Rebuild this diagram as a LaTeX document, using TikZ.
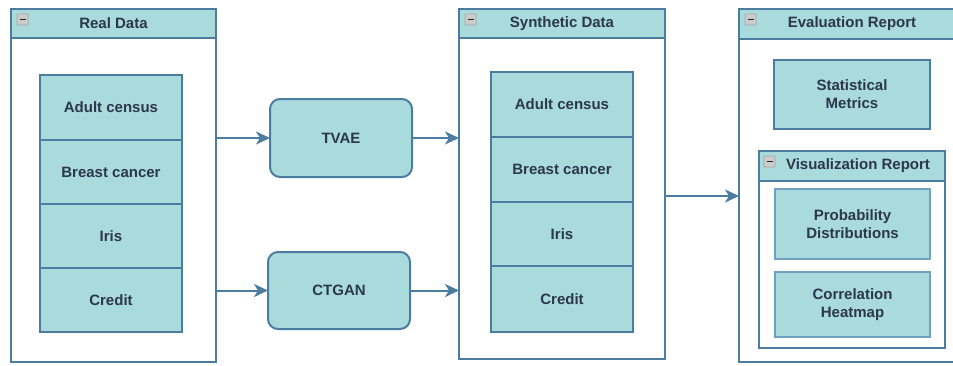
\documentclass[tikz,border=0pt]{standalone}
\usepackage{fontspec}
\setmainfont{Liberation Sans}
\usetikzlibrary{arrows.meta}
\definecolor{tealfill}{RGB}{169,218,220}
\definecolor{edge}{RGB}{76,125,160}
\definecolor{soft}{RGB}{112,162,192}
\definecolor{txt}{RGB}{44,55,75}
\begin{document}
\begin{tikzpicture}[x=1pt,y=-1pt,
  font=\fontsize{15}{18}\selectfont\bfseries, text=txt,
  rect/.style={anchor=north west, inner sep=0pt, outer sep=0pt, align=center},
  box/.style={rect, draw=edge, line width=2pt, fill=white},
  hdr/.style={rect, draw=edge, line width=2pt, fill=tealfill},
  cell/.style={rect, draw=edge, line width=2pt, fill=tealfill},
  softcell/.style={rect, draw=soft, line width=2pt, fill=tealfill},
  model/.style={rect, draw=edge, line width=2pt, fill=tealfill, rounded corners=10pt},
  icon/.style={anchor=north west, inner sep=0pt, outer sep=0pt, minimum size=11pt,
    draw=black!35, fill=black!20, line width=0.8pt, rounded corners=1pt,
    path picture={\draw[black!85, line width=1.6pt]
      ([xshift=2.5pt]path picture bounding box.west) -- ([xshift=-2.5pt]path picture bounding box.east);}},
  arr/.style={draw=edge, line width=2pt, -{Stealth[length=14pt 0,width=13pt 0,inset=4pt]}}
]
\useasboundingbox (0,0) rectangle (953,365);

% Real Data
\node[box, minimum width=205pt, minimum height=353pt] (real) at (11,9) {};
\node[hdr, minimum width=205pt, minimum height=29pt] (realh) at (11,9) {Real Data};
\node[icon] (reali) at (17,14) {};
\node[cell, minimum width=142pt, minimum height=65pt] (r1) at (40,75) {Adult census};
\node[cell, minimum width=142pt, minimum height=64pt] (r2) at (40,140) {Breast cancer};
\node[cell, minimum width=142pt, minimum height=64pt] (r3) at (40,204) {Iris};
\node[cell, minimum width=142pt, minimum height=64pt] (r4) at (40,268) {Credit};

% Models
\node[model, minimum width=142pt, minimum height=78pt] (tvae) at (270,99) {TVAE};
\node[model, minimum width=142pt, minimum height=77pt] (ctgan) at (268,252) {CTGAN};

% Synthetic Data
\node[box, minimum width=206pt, minimum height=350pt] (synth) at (459,9) {};
\node[hdr, minimum width=206pt, minimum height=29pt] (synthh) at (459,9) {Synthetic Data};
\node[icon] (synthi) at (465,14) {};
\node[cell, minimum width=142pt, minimum height=65pt] (s1) at (491,72) {Adult census};
\node[cell, minimum width=142pt, minimum height=65pt] (s2) at (491,137) {Breast cancer};
\node[cell, minimum width=142pt, minimum height=64pt] (s3) at (491,202) {Iris};
\node[cell, minimum width=142pt, minimum height=66pt] (s4) at (491,266) {Credit};

% Evaluation Report
\node[box, minimum width=226pt, minimum height=353pt] (eval) at (739,9) {};
\node[hdr, minimum width=226pt, minimum height=30pt] (evalh) at (739,9) {Evaluation Report};
\node[icon] (evali) at (745,14) {};
\node[cell, minimum width=156pt, minimum height=69pt] (stat) at (774,60) {Statistical\\Metrics};
\node[box, minimum width=186pt, minimum height=197pt] (viz) at (759,151) {};
\node[hdr, minimum width=186pt, minimum height=30pt] (vizh) at (759,151) {\hspace{12pt}Visualization Report};
\node[icon] (vizi) at (764,156) {};
\node[softcell, minimum width=155pt, minimum height=70pt] (prob) at (775,189) {Probability\\Distributions};
\node[softcell, minimum width=155pt, minimum height=65pt] (corr) at (775,272) {Correlation\\Heatmap};

% Connectors
\draw[arr] (real.east |- tvae.west) -- (tvae.west);
\draw[arr] (tvae.east) -- (synth.west |- tvae.east);
\draw[arr] (real.east |- ctgan.west) -- (ctgan.west);
\draw[arr] (ctgan.east) -- (synth.west |- ctgan.east);
\path ([yshift=-12pt]synth.east) coordinate (se);
\draw[arr] (se) -- (se -| eval.west);
\end{tikzpicture}
\end{document}
